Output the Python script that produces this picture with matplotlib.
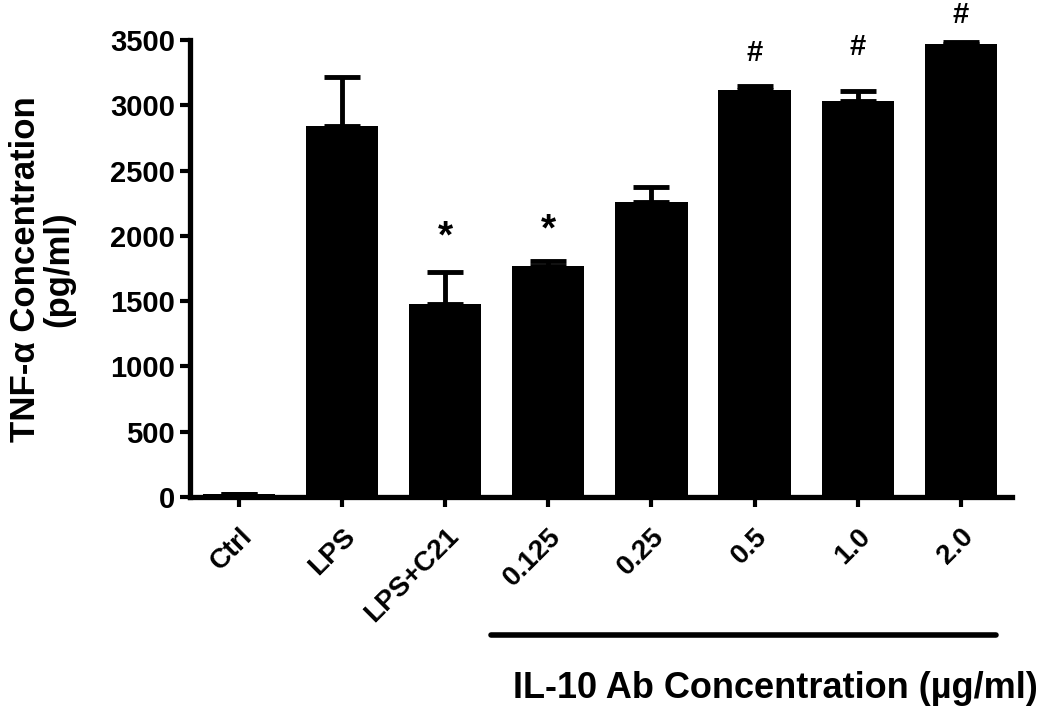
import numpy as np
import matplotlib
matplotlib.use('Agg')
import matplotlib.pyplot as plt
import matplotlib.transforms as mtransforms

plt.rcParams['font.family'] = ['Liberation Sans', 'DejaVu Sans']
plt.rcParams['font.weight'] = 'bold'

# values
groups = ['Ctrl', 'LPS', 'LPS+C21', '0.125', '0.25', '0.5', '1.0', '2.0']
tnf_mean = [25, 2840, 1475, 1770, 2260, 3115, 3030, 3470]
tnf_sem = [0, 375, 245, 35, 115, 35, 80, 15]
marks = ['', '', '*', '*', '', '#', '#', '#']
mark_y = [0, 0, 1990, 2045, 0, 3400, 3450, 3690]

x = np.arange(len(groups))

fig = plt.figure(figsize=(10.5, 7.08), dpi=100)
ax = fig.add_axes([0.181, 0.298, 0.783, 0.6455])

ax.bar(x, tnf_mean, width=0.7, color='black', zorder=2)
ax.errorbar(x, tnf_mean, yerr=[np.zeros(len(x)), tnf_sem], fmt='none',
            ecolor='black', elinewidth=3.5, capsize=13, capthick=3.5, zorder=1)

for xi, m, my in zip(x, marks, mark_y):
    if m == '':
        continue
    ax.text(xi, my, m, ha='center', va='center', fontsize=28 if m == '*' else 21,
            fontweight='bold', clip_on=False)

ax.set_xlim(-0.476, 7.5)
ax.set_ylim(0, 3500)
ax.set_yticks(np.arange(0, 3501, 500))
ax.set_xticks(x)
ax.set_xticklabels(groups, rotation=45, ha='right', rotation_mode='anchor')

for s in ['top', 'right']:
    ax.spines[s].set_visible(False)
for s in ['left', 'bottom']:
    ax.spines[s].set_linewidth(3.8)
ax.tick_params(axis='both', width=3, length=7, pad=4)
ax.tick_params(axis='y', labelsize=21)
ax.tick_params(axis='x', labelsize=20, pad=12)
for lab in ax.get_xticklabels() + ax.get_yticklabels():
    lab.set_fontweight('bold')

# bracket line under the IL-10 Ab groups
trans = mtransforms.blended_transform_factory(ax.transData, ax.transAxes)
ax.plot([2.44, 7.34], [-0.302, -0.302], color='black', lw=4, transform=trans,
        clip_on=False, solid_capstyle='round')

fig.text(0.738, 0.028, 'IL-10 Ab Concentration (µg/ml)', ha='center', va='center',
         fontsize=26, fontweight='bold')
fig.text(0.04, 0.62, 'TNF-α Concentration\n(pg/ml)', ha='center', va='center',
         rotation=90, fontsize=25, fontweight='bold', linespacing=1.0)

fig.savefig('out.png', dpi=100)
